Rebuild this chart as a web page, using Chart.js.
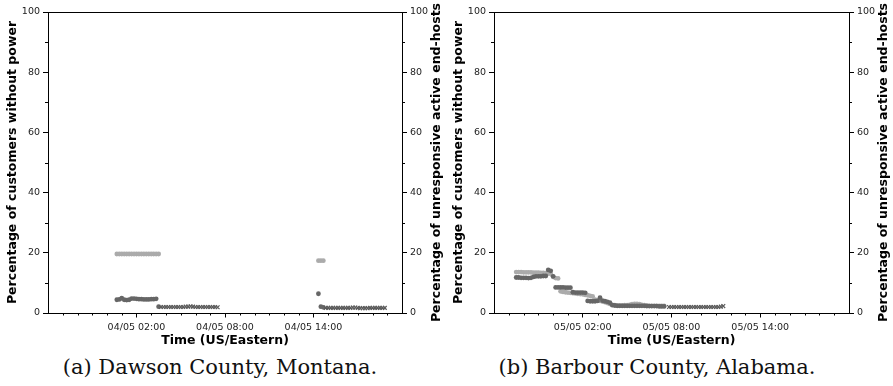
<!DOCTYPE html>
<html>
<head>
<meta charset="utf-8">
<script src="https://cdn.jsdelivr.net/npm/chart.js@4.4.1/dist/chart.umd.min.js"></script>
<style>
  html, body { margin: 0; padding: 0; background: #fff; }
  #wrap { position: relative; width: 893px; height: 386px; overflow: hidden; }
  .panel { position: absolute; top: 0; width: 446px; height: 386px; }
  .panel canvas { position: absolute; left: 0; top: 0; }
  .caption {
    position: absolute; top: 355px; left: 0; width: 100%;
    text-align: center; font-family: 'DejaVu Serif', serif; font-size: 21px; color: #111;
  }
</style>
</head>
<body>
<div id="wrap">
  <div class="panel" style="left:0">
    <canvas id="chartA" width="446" height="350"></canvas>
    <div class="caption" style="margin-left:-3px">(a) Dawson County, Montana.</div>
  </div>
  <div class="panel" style="left:446px">
    <canvas id="chartB" width="447" height="350"></canvas>
    <div class="caption" style="margin-left:-12px">(b) Barbour County, Alabama.</div>
  </div>
</div>
<script>
// x axis: hours after 20:00 of the previous day, 24 hour window
const xTickHours = [6, 12, 18];
const xTickLabelsA = ['04/05 02:00', '04/05 08:00', '04/05 14:00'];
const xTickLabelsB = ['05/05 02:00', '05/05 08:00', '05/05 14:00'];
const minorHours = [1, 2, 3, 4, 5, 7, 8, 9, 10, 11, 13, 14, 15, 16, 17, 19, 20, 21, 22, 23];
const yTicks = [0, 20, 40, 60, 80, 100];
const yMinor = [10, 30, 50, 70, 90];

// (a) Dawson County
const dawsonPowerTimes = ['00:40', '00:50', '01:00', '01:10', '01:20', '01:30', '01:40', '01:50', '02:00',
  '02:10', '02:20', '02:30', '02:40', '02:50', '03:00', '03:10', '03:20', '03:30', '14:20', '14:30', '14:40'];
const dawsonPowerValues = [19.6, 19.6, 19.6, 19.6, 19.6, 19.6, 19.6, 19.6, 19.6,
  19.6, 19.6, 19.6, 19.6, 19.6, 19.6, 19.6, 19.6, 19.6, 17.4, 17.4, 17.4];

const dawsonHostTimes = ['00:40', '00:50', '01:00', '01:10', '01:20', '01:30', '01:40', '01:50', '02:00',
  '02:10', '02:20', '02:30', '02:40', '02:50', '03:00', '03:10', '03:20', '03:30', '14:20', '14:30', '14:40'];
const dawsonHostValues = [4.4, 4.5, 4.9, 4.4, 4.3, 4.4, 4.8, 4.8, 4.7,
  4.6, 4.6, 4.5, 4.5, 4.5, 4.6, 4.6, 4.7, 2.1, 6.4, 2.1, 1.9];

const dawsonGapTimes = ['03:40', '03:50', '04:00', '04:10', '04:20', '04:30', '04:40', '04:50', '05:00',
  '05:10', '05:20', '05:30', '05:40', '05:50', '06:00', '06:10', '06:20', '06:30', '06:40', '06:50',
  '07:00', '07:10', '07:20', '07:30',
  '14:50', '15:00', '15:10', '15:20', '15:30', '15:40', '15:50', '16:00', '16:10', '16:20', '16:30',
  '16:40', '16:50', '17:00', '17:10', '17:20', '17:30', '17:40', '17:50', '18:00', '18:10', '18:20',
  '18:30', '18:40', '18:50'];
const dawsonGapValues = [2.0, 2.0, 2.0, 2.0, 2.0, 2.0, 2.0, 2.0, 2.0,
  2.0, 2.1, 2.1, 2.2, 2.1, 2.0, 2.0, 2.0, 2.0, 2.0, 2.0,
  2.0, 2.0, 2.0, 1.9,
  1.7, 1.7, 1.7, 1.7, 1.7, 1.7, 1.7, 1.7, 1.7, 1.7, 1.7,
  1.8, 1.8, 1.7, 1.6, 1.6, 1.6, 1.6, 1.7, 1.7, 1.7, 1.7,
  1.7, 1.7, 1.7];

// (b) Barbour County
const barbourPowerTimes = ['21:30', '21:40', '21:50', '22:00', '22:10', '22:20', '22:30', '22:40', '22:50',
  '23:00', '23:10', '23:20', '23:30', '23:40', '23:50', '00:00', '00:10', '00:20',
  '00:30', '00:40', '00:50', '01:00', '01:10', '01:20', '01:30', '01:40', '01:50', '02:00', '02:10',
  '02:20', '02:30', '02:40', '02:50', '03:00', '03:10', '03:20', '03:30', '03:40', '03:50', '04:00',
  '04:10', '04:20', '04:30', '04:40', '04:50', '05:00', '05:10', '05:20', '05:30', '05:40', '05:50',
  '06:00', '06:10', '06:20', '06:30', '06:40', '06:50', '07:00', '07:10', '07:20', '07:30'];
const barbourPowerValues = [13.6, 13.6, 13.6, 13.5, 13.5, 13.5, 13.5, 13.4, 13.4,
  13.4, 13.3, 13.3, 13.2, 13.1, 13.0, 12.0, 11.6, 11.5,
  7.2, 7.0, 6.9, 6.8, 6.7, 6.6, 6.5, 6.4, 6.3, 6.2, 6.0,
  5.9, 5.7, 5.5, 4.4, 4.2, 4.0, 3.8, 3.6, 3.3, 3.0, 2.7,
  2.6, 2.5, 2.5, 2.5, 2.6, 2.6, 2.7, 2.9, 3.0, 3.0, 2.9,
  2.7, 2.6, 2.5, 2.4, 2.4, 2.4, 2.4, 2.4, 2.4, 2.4];

const barbourHostTimes = ['21:30', '21:40', '21:50', '22:00', '22:10', '22:20', '22:30', '22:40', '22:50',
  '23:00', '23:10', '23:20', '23:30', '23:40', '23:50', '00:00',
  '00:10', '00:20', '00:30', '00:40', '00:50', '01:00', '01:10',
  '01:20', '01:30', '01:40', '01:50', '02:00', '02:10',
  '02:20', '02:30', '02:40', '02:50', '03:00', '03:10', '03:20', '03:30', '03:40', '03:50',
  '04:00', '04:10', '04:20', '04:30', '04:40', '04:50', '05:00', '05:10', '05:20', '05:30', '05:40',
  '05:50', '06:00', '06:10', '06:20', '06:30', '06:40', '06:50', '07:00', '07:10', '07:20', '07:30'];
const barbourHostValues = [11.8, 11.8, 11.7, 11.7, 11.7, 11.6, 11.7, 12.0, 12.2,
  12.2, 12.2, 12.3, 12.3, 14.3, 14.0, 12.2,
  8.5, 8.5, 8.5, 8.5, 8.4, 8.4, 8.4,
  6.9, 6.8, 6.8, 6.8, 6.8, 6.7,
  4.0, 3.9, 3.9, 3.9, 4.0, 5.1, 4.1, 3.9, 3.7, 3.4,
  2.6, 2.5, 2.4, 2.4, 2.4, 2.4, 2.4, 2.4, 2.4, 2.4, 2.4,
  2.4, 2.4, 2.4, 2.3, 2.3, 2.3, 2.3, 2.3, 2.2, 2.2, 2.2];

const barbourGapTimes = ['07:50', '08:00', '08:10', '08:20', '08:30', '08:40', '08:50', '09:00', '09:10',
  '09:20', '09:30', '09:40', '09:50', '10:00', '10:10', '10:20', '10:30', '10:40', '10:50', '11:00',
  '11:10', '11:20', '11:30'];
const barbourGapValues = [2.0, 2.0, 2.0, 2.0, 2.0, 2.0, 2.0, 2.0, 2.0,
  2.0, 2.0, 2.0, 2.0, 2.0, 2.0, 2.0, 2.0, 2.0, 2.0, 2.0,
  2.0, 2.1, 2.3];

const LIGHT = '#ababab';
const DARK = '#666666';
const CROSS = '#5a5a5a';
const RIGHT_TITLE = 'Percentage of unresponsive active end-hosts';

// 'HH:MM' -> hours after 20:00 of the day before
function toHours(t) {
    const [hh, mm] = t.split(':').map(Number);
    const h = hh + mm / 60;
    return hh >= 20 ? h - 20 : h + 4;
}

function points(times, values) {
    return times.map((t, i) => ({ x: toHours(t), y: values[i] }));
}

const tickFont = { family: 'DejaVu Sans', size: 9.5 };
const titleFont = { family: 'DejaVu Sans', size: 12.5, weight: 'bold' };

// minor ticks, the top spine and the right title (read bottom to top like matplotlib)
const frameAndMinor = {
    id: 'frameAndMinor',
    afterDraw(chart) {
        const { ctx, chartArea: a, scales } = chart;
        ctx.save();
        ctx.strokeStyle = '#000';
        ctx.lineWidth = 1;
        ctx.beginPath();
        minorHours.forEach(h => {
            const x = Math.round(scales.x.getPixelForValue(h)) + 0.5;
            ctx.moveTo(x, a.bottom);
            ctx.lineTo(x, a.bottom + 2.5);
        });
        yMinor.forEach(v => {
            const y = Math.round(scales.y.getPixelForValue(v)) + 0.5;
            ctx.moveTo(a.left, y);
            ctx.lineTo(a.left - 3, y);
            ctx.moveTo(a.right, y);
            ctx.lineTo(a.right + 3, y);
        });
        ctx.moveTo(a.left, Math.round(a.top) + 0.5);
        ctx.lineTo(a.right, Math.round(a.top) + 0.5);
        ctx.stroke();

        const r = scales.y2;
        ctx.translate(r.right - 9, (a.top + a.bottom) / 2);
        ctx.rotate(-Math.PI / 2);
        ctx.font = `bold ${titleFont.size}px ${titleFont.family}`;
        ctx.fillStyle = '#000';
        ctx.textAlign = 'center';
        ctx.textBaseline = 'middle';
        ctx.fillText(RIGHT_TITLE, 0, 0);
        ctx.restore();
    }
};

function yScale(position, title, width) {
    return {
        type: 'linear',
        position: position,
        min: 0,
        max: 100,
        afterBuildTicks: (s) => { s.ticks = yTicks.map(v => ({ value: v })); },
        afterFit: (s) => { s.width = width; },
        ticks: { font: tickFont, color: '#222', padding: 3 },
        grid: { drawOnChartArea: false, drawTicks: true, tickLength: 5, color: '#000' },
        border: { display: true, color: '#000', width: 1 },
        title: { display: !!title, text: title, font: titleFont, color: '#000', padding: { top: 5, bottom: 0 } }
    };
}

function makeChart(id, tickLabels, power, hosts, gaps) {
    new Chart(document.getElementById(id), {
        type: 'scatter',
        data: {
            datasets: [
                {
                    data: gaps, pointStyle: 'crossRot', pointRadius: 2.7, borderWidth: 1.2,
                    borderColor: CROSS, backgroundColor: CROSS, order: 1
                },
                {
                    data: hosts, pointStyle: 'circle', pointRadius: 2.4, borderWidth: 0,
                    backgroundColor: DARK, order: 2
                },
                {
                    data: power, pointStyle: 'circle', pointRadius: 2.4, borderWidth: 0,
                    backgroundColor: LIGHT, order: 3
                }
            ]
        },
        options: {
            responsive: false,
            animation: false,
            devicePixelRatio: 1,
            layout: { padding: { top: 12, bottom: 0, left: 0, right: 0 } },
            plugins: { legend: { display: false }, tooltip: { enabled: false } },
            scales: {
                x: {
                    type: 'linear',
                    min: 0,
                    max: 24,
                    afterBuildTicks: (s) => { s.ticks = xTickHours.map(v => ({ value: v })); },
                    afterFit: (s) => { s.height = 37; },
                    ticks: {
                        font: tickFont, color: '#222', padding: 4, maxRotation: 0,
                        callback: (v) => tickLabels[xTickHours.indexOf(v)]
                    },
                    grid: { drawOnChartArea: false, drawTicks: true, tickLength: 4.5, color: '#000' },
                    border: { display: true, color: '#000', width: 1 },
                    title: { display: true, text: 'Time (US/Eastern)', font: titleFont, color: '#000', padding: { top: 0, bottom: 2 } }
                },
                y: yScale('left', 'Percentage of customers without power', 48),
                y2: yScale('right', '', 44)
            }
        },
        plugins: [frameAndMinor]
    });
}

makeChart('chartA', xTickLabelsA,
    points(dawsonPowerTimes, dawsonPowerValues),
    points(dawsonHostTimes, dawsonHostValues),
    points(dawsonGapTimes, dawsonGapValues));

makeChart('chartB', xTickLabelsB,
    points(barbourPowerTimes, barbourPowerValues),
    points(barbourHostTimes, barbourHostValues),
    points(barbourGapTimes, barbourGapValues));
</script>
</body>
</html>
